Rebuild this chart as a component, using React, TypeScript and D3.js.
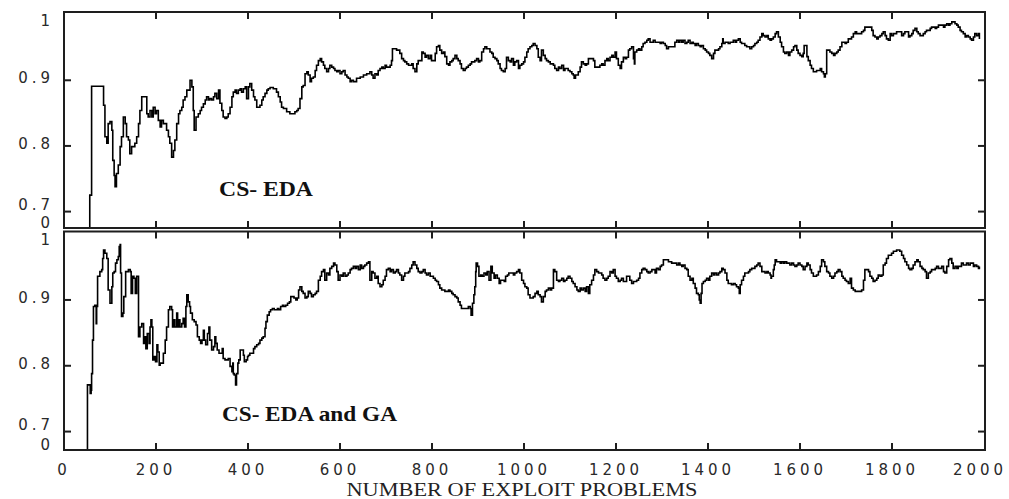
import React from 'react';
import * as d3 from 'd3';

// problems (x) and classification accuracy (y)
const csEdaPoints: [number, number][] = [
  [56,0.675],[56,0.725],[60,0.725],[60,0.891],[85,0.891],[86,0.862],[89,0.814],[93,0.804],[96,0.834],[100,0.837],
  [104,0.824],[106,0.778],[109,0.755],[111,0.738],[114,0.758],[118,0.771],[122,0.799],[125,0.814],[129,0.844],[133,0.834],
  [136,0.814],[140,0.809],[143,0.788],[147,0.799],[151,0.799],[154,0.804],[158,0.814],[162,0.834],[165,0.854],[169,0.875],
  [176,0.875],[180,0.849],[183,0.844],[187,0.854],[191,0.844],[194,0.859],[198,0.849],[201,0.854],[205,0.839],[209,0.829],
  [212,0.839],[216,0.834],[223,0.824],[227,0.814],[230,0.804],[234,0.783],[238,0.793],[241,0.809],[245,0.834],[249,0.849],
  [252,0.854],[256,0.859],[259,0.870],[263,0.875],[267,0.885],[270,0.885],[274,0.900],[278,0.890],[281,0.854],[283,0.824],
  [287,0.844],[292,0.849],[296,0.854],[299,0.859],[303,0.864],[307,0.870],[310,0.875],[314,0.870],[317,0.872],[321,0.870],
  [325,0.875],[328,0.880],[332,0.872],[336,0.885],[339,0.865],[343,0.854],[346,0.844],[350,0.842],[354,0.844],[357,0.849],
  [361,0.859],[365,0.875],[368,0.882],[372,0.885],[375,0.880],[379,0.885],[383,0.887],[386,0.882],[390,0.887],[394,0.890],
  [397,0.872],[401,0.890],[404,0.895],[408,0.885],[412,0.875],[415,0.870],[419,0.859],[426,0.862],[430,0.870],[433,0.875],
  [437,0.880],[441,0.885],[444,0.887],[448,0.889],[455,0.887],[462,0.882],[466,0.875],[470,0.867],[473,0.859],[477,0.857],
  [484,0.852],[491,0.849],[499,0.849],[502,0.852],[506,0.854],[509,0.857],[513,0.872],[517,0.890],[520,0.892],[524,0.910],
  [528,0.913],[531,0.908],[535,0.898],[538,0.903],[542,0.905],[546,0.915],[549,0.923],[553,0.930],[557,0.933],[560,0.928],
  [564,0.923],[567,0.918],[571,0.913],[575,0.918],[578,0.923],[582,0.920],[586,0.918],[589,0.915],[593,0.913],[596,0.915],
  [600,0.910],[604,0.913],[607,0.915],[611,0.908],[615,0.905],[618,0.903],[622,0.898],[625,0.900],[629,0.898],[636,0.903],
  [644,0.905],[651,0.908],[658,0.910],[665,0.913],[669,0.908],[672,0.903],[676,0.910],[680,0.908],[683,0.915],[687,0.918],
  [691,0.920],[694,0.918],[698,0.923],[701,0.920],[709,0.923],[712,0.930],[714,0.948],[720,0.948],[723,0.946],[727,0.946],
  [730,0.941],[734,0.933],[738,0.930],[741,0.928],[745,0.925],[749,0.923],[752,0.923],[756,0.925],[759,0.918],[763,0.913],
  [767,0.925],[770,0.930],[774,0.930],[778,0.943],[781,0.941],[785,0.935],[788,0.938],[792,0.933],[796,0.938],[799,0.930],
  [803,0.930],[807,0.941],[810,0.951],[814,0.953],[817,0.946],[821,0.941],[825,0.943],[828,0.936],[832,0.925],[836,0.923],
  [839,0.928],[843,0.930],[846,0.933],[850,0.938],[854,0.933],[857,0.930],[861,0.925],[864,0.918],[868,0.915],[872,0.918],
  [875,0.920],[879,0.923],[883,0.925],[886,0.928],[893,0.930],[897,0.933],[901,0.928],[904,0.930],[908,0.943],[912,0.948],
  [915,0.951],[919,0.948],[922,0.948],[926,0.943],[930,0.941],[933,0.935],[937,0.933],[941,0.930],[944,0.925],[948,0.918],
  [951,0.915],[955,0.913],[959,0.918],[962,0.935],[966,0.930],[970,0.928],[973,0.933],[977,0.923],[980,0.928],[984,0.930],
  [988,0.918],[991,0.923],[995,0.925],[999,0.928],[1002,0.935],[1006,0.943],[1009,0.948],[1013,0.951],[1017,0.953],[1020,0.956],
  [1024,0.953],[1028,0.948],[1031,0.935],[1035,0.930],[1038,0.946],[1042,0.938],[1046,0.933],[1049,0.930],[1053,0.928],[1057,0.925],
  [1060,0.925],[1064,0.923],[1067,0.918],[1071,0.915],[1075,0.920],[1078,0.918],[1082,0.923],[1086,0.915],[1089,0.918],[1093,0.918],
  [1096,0.915],[1100,0.913],[1104,0.910],[1107,0.908],[1109,0.903],[1112,0.908],[1118,0.913],[1122,0.920],[1125,0.928],[1129,0.925],
  [1133,0.923],[1136,0.925],[1140,0.933],[1147,0.933],[1151,0.930],[1154,0.920],[1158,0.920],[1165,0.923],[1169,0.925],[1172,0.923],
  [1176,0.930],[1180,0.933],[1183,0.930],[1187,0.935],[1191,0.938],[1194,0.935],[1198,0.943],[1201,0.933],[1205,0.923],[1209,0.918],
  [1212,0.928],[1216,0.935],[1220,0.933],[1223,0.935],[1227,0.946],[1230,0.948],[1234,0.951],[1238,0.933],[1240,0.925],[1241,0.943],
  [1245,0.946],[1249,0.948],[1252,0.946],[1256,0.951],[1259,0.956],[1263,0.958],[1267,0.961],[1270,0.963],[1274,0.958],[1278,0.958],
  [1281,0.961],[1285,0.958],[1292,0.958],[1296,0.956],[1299,0.958],[1303,0.956],[1307,0.953],[1310,0.948],[1314,0.951],[1321,0.951],
  [1328,0.958],[1332,0.961],[1336,0.958],[1339,0.961],[1343,0.958],[1346,0.961],[1350,0.956],[1354,0.958],[1357,0.961],[1361,0.956],
  [1365,0.958],[1368,0.956],[1372,0.953],[1375,0.956],[1379,0.953],[1383,0.951],[1386,0.953],[1390,0.948],[1394,0.946],[1397,0.943],
  [1401,0.941],[1404,0.938],[1408,0.933],[1412,0.941],[1415,0.946],[1419,0.946],[1423,0.948],[1426,0.951],[1430,0.956],[1432,0.963],
  [1433,0.956],[1437,0.958],[1441,0.958],[1444,0.956],[1448,0.958],[1451,0.958],[1455,0.961],[1459,0.958],[1462,0.961],[1466,0.963],
  [1470,0.958],[1473,0.956],[1477,0.956],[1480,0.953],[1484,0.951],[1488,0.951],[1491,0.948],[1495,0.951],[1499,0.953],[1502,0.956],
  [1506,0.958],[1509,0.961],[1513,0.966],[1517,0.971],[1520,0.968],[1524,0.966],[1528,0.968],[1531,0.963],[1535,0.961],[1538,0.963],
  [1542,0.966],[1546,0.971],[1549,0.974],[1553,0.966],[1557,0.958],[1560,0.951],[1564,0.943],[1567,0.941],[1571,0.943],[1575,0.938],
  [1578,0.943],[1582,0.946],[1586,0.951],[1589,0.953],[1593,0.946],[1596,0.941],[1600,0.938],[1604,0.936],[1607,0.941],[1609,0.953],
  [1612,0.953],[1615,0.936],[1618,0.930],[1622,0.923],[1625,0.918],[1629,0.913],[1633,0.913],[1636,0.915],[1640,0.915],[1644,0.918],
  [1647,0.913],[1651,0.910],[1653,0.905],[1655,0.910],[1658,0.946],[1662,0.946],[1665,0.943],[1669,0.941],[1673,0.938],[1676,0.941],
  [1680,0.943],[1683,0.946],[1687,0.951],[1691,0.958],[1694,0.958],[1698,0.956],[1701,0.958],[1705,0.963],[1709,0.963],[1712,0.966],
  [1716,0.971],[1720,0.974],[1723,0.971],[1730,0.971],[1734,0.974],[1738,0.976],[1741,0.981],[1752,0.981],[1756,0.976],[1759,0.968],
  [1763,0.966],[1767,0.963],[1770,0.966],[1774,0.968],[1778,0.971],[1781,0.974],[1785,0.968],[1788,0.963],[1792,0.961],[1796,0.971],
  [1799,0.968],[1803,0.971],[1810,0.974],[1817,0.974],[1821,0.968],[1825,0.971],[1828,0.974],[1832,0.974],[1836,0.966],[1839,0.968],
  [1843,0.971],[1846,0.976],[1850,0.979],[1854,0.974],[1857,0.971],[1861,0.968],[1865,0.968],[1868,0.971],[1872,0.974],[1875,0.976],
  [1879,0.976],[1883,0.979],[1886,0.981],[1890,0.981],[1894,0.979],[1897,0.981],[1901,0.984],[1904,0.984],[1908,0.984],[1912,0.981],
  [1915,0.984],[1919,0.986],[1923,0.984],[1926,0.986],[1930,0.989],[1933,0.989],[1937,0.986],[1941,0.984],[1944,0.981],[1948,0.976],
  [1951,0.974],[1955,0.971],[1959,0.966],[1962,0.968],[1966,0.966],[1970,0.963],[1973,0.961],[1977,0.966],[1980,0.971],[1984,0.968],
  [1988,0.971],[1990,0.963],
];

const csEdaGaPoints: [number, number][] = [
  [51,0.672],[51,0.771],[54,0.771],[57,0.758],[59,0.763],[60,0.788],[62,0.839],[64,0.890],[67,0.892],[70,0.864],
  [71,0.890],[73,0.936],[77,0.936],[78,0.943],[82,0.946],[84,0.963],[86,0.976],[89,0.971],[93,0.963],[96,0.915],
  [100,0.895],[104,0.920],[106,0.941],[109,0.943],[112,0.956],[115,0.961],[118,0.966],[120,0.981],[122,0.984],[123,0.941],
  [125,0.875],[128,0.880],[130,0.905],[134,0.943],[140,0.946],[144,0.943],[146,0.910],[149,0.936],[152,0.933],[155,0.910],
  [158,0.936],[162,0.844],[165,0.859],[169,0.864],[173,0.834],[176,0.844],[178,0.826],[181,0.849],[185,0.834],[187,0.859],
  [189,0.870],[191,0.859],[193,0.809],[196,0.814],[199,0.806],[202,0.832],[204,0.821],[207,0.801],[209,0.804],[212,0.804],
  [216,0.819],[220,0.839],[223,0.859],[227,0.885],[230,0.890],[234,0.885],[236,0.859],[239,0.870],[241,0.859],[245,0.880],
  [247,0.859],[250,0.870],[252,0.859],[256,0.864],[259,0.872],[262,0.859],[265,0.890],[267,0.908],[270,0.897],[273,0.890],
  [275,0.880],[279,0.870],[283,0.867],[287,0.862],[290,0.844],[294,0.839],[297,0.834],[300,0.839],[303,0.854],[305,0.839],
  [308,0.832],[312,0.849],[315,0.859],[317,0.839],[321,0.824],[325,0.829],[328,0.844],[330,0.834],[333,0.824],[337,0.819],
  [341,0.819],[344,0.826],[346,0.811],[350,0.809],[354,0.809],[357,0.811],[361,0.799],[365,0.791],[367,0.804],[368,0.788],
  [370,0.786],[373,0.771],[375,0.788],[378,0.804],[380,0.809],[383,0.824],[386,0.824],[390,0.816],[392,0.806],[396,0.809],
  [399,0.814],[401,0.816],[404,0.819],[408,0.819],[412,0.826],[415,0.829],[419,0.832],[423,0.834],[426,0.839],[430,0.842],
  [433,0.844],[437,0.857],[439,0.867],[442,0.877],[446,0.882],[449,0.885],[453,0.887],[457,0.885],[460,0.885],[464,0.887],
  [467,0.885],[471,0.890],[475,0.892],[478,0.890],[482,0.892],[486,0.895],[490,0.897],[493,0.905],[496,0.905],[500,0.903],
  [504,0.900],[507,0.903],[510,0.915],[513,0.920],[517,0.913],[520,0.910],[524,0.903],[528,0.905],[531,0.913],[535,0.910],
  [538,0.905],[542,0.908],[546,0.910],[549,0.913],[553,0.930],[557,0.936],[560,0.943],[564,0.946],[567,0.930],[571,0.941],
  [575,0.938],[578,0.948],[582,0.951],[586,0.956],[589,0.953],[593,0.943],[596,0.930],[600,0.938],[604,0.936],[607,0.941],
  [611,0.936],[615,0.938],[618,0.941],[622,0.946],[625,0.948],[629,0.951],[633,0.948],[636,0.951],[640,0.946],[644,0.953],
  [647,0.948],[651,0.951],[654,0.953],[658,0.956],[662,0.958],[665,0.930],[669,0.943],[672,0.941],[676,0.933],[680,0.936],
  [683,0.925],[687,0.920],[691,0.923],[694,0.930],[698,0.936],[701,0.946],[705,0.948],[709,0.943],[712,0.946],[716,0.941],
  [720,0.943],[723,0.946],[727,0.941],[730,0.938],[734,0.930],[738,0.936],[741,0.941],[745,0.941],[749,0.943],[752,0.948],
  [756,0.953],[759,0.958],[763,0.953],[767,0.948],[770,0.943],[774,0.941],[778,0.943],[781,0.946],[785,0.941],[788,0.938],
  [792,0.941],[796,0.936],[799,0.936],[803,0.933],[807,0.930],[810,0.928],[814,0.923],[817,0.918],[821,0.915],[825,0.915],
  [828,0.913],[832,0.913],[836,0.915],[839,0.913],[843,0.910],[846,0.908],[850,0.905],[854,0.903],[857,0.897],[861,0.892],
  [864,0.887],[872,0.887],[875,0.887],[879,0.890],[883,0.887],[885,0.877],[888,0.895],[891,0.908],[893,0.920],[895,0.943],
  [896,0.956],[899,0.951],[902,0.936],[906,0.938],[909,0.936],[913,0.941],[917,0.938],[920,0.943],[924,0.930],[928,0.951],
  [931,0.941],[935,0.933],[938,0.938],[942,0.933],[946,0.925],[949,0.930],[953,0.930],[957,0.928],[960,0.936],[964,0.938],
  [967,0.941],[973,0.941],[977,0.938],[980,0.941],[984,0.943],[988,0.946],[991,0.941],[995,0.930],[999,0.925],[1002,0.920],
  [1006,0.918],[1009,0.908],[1013,0.903],[1017,0.903],[1020,0.905],[1024,0.910],[1028,0.913],[1031,0.908],[1035,0.905],[1038,0.897],
  [1042,0.905],[1046,0.913],[1049,0.915],[1053,0.918],[1057,0.915],[1060,0.918],[1064,0.946],[1067,0.943],[1071,0.930],[1075,0.928],
  [1078,0.930],[1082,0.933],[1086,0.928],[1089,0.930],[1093,0.933],[1096,0.936],[1100,0.933],[1104,0.928],[1107,0.925],[1111,0.920],
  [1115,0.915],[1118,0.913],[1122,0.918],[1125,0.915],[1129,0.918],[1133,0.913],[1136,0.920],[1140,0.910],[1143,0.923],[1147,0.930],
  [1151,0.938],[1154,0.946],[1158,0.943],[1162,0.941],[1165,0.941],[1169,0.938],[1172,0.933],[1176,0.930],[1180,0.933],[1183,0.936],
  [1187,0.943],[1191,0.941],[1194,0.946],[1198,0.936],[1201,0.933],[1205,0.928],[1209,0.930],[1212,0.933],[1216,0.928],[1220,0.928],
  [1223,0.936],[1227,0.936],[1230,0.930],[1234,0.925],[1238,0.928],[1241,0.928],[1245,0.930],[1249,0.933],[1252,0.941],[1256,0.946],
  [1259,0.948],[1263,0.946],[1267,0.943],[1270,0.941],[1274,0.943],[1278,0.946],[1281,0.946],[1285,0.941],[1288,0.948],[1292,0.946],
  [1296,0.951],[1299,0.953],[1303,0.961],[1307,0.961],[1314,0.958],[1321,0.956],[1328,0.956],[1332,0.953],[1336,0.956],[1339,0.953],
  [1343,0.951],[1346,0.953],[1350,0.948],[1354,0.946],[1357,0.936],[1361,0.930],[1365,0.933],[1368,0.925],[1372,0.918],[1375,0.910],
  [1379,0.908],[1381,0.900],[1383,0.895],[1385,0.910],[1387,0.925],[1390,0.928],[1394,0.930],[1397,0.933],[1401,0.930],[1404,0.936],
  [1408,0.941],[1412,0.938],[1415,0.941],[1419,0.938],[1423,0.941],[1426,0.943],[1430,0.948],[1433,0.946],[1437,0.941],[1441,0.930],
  [1444,0.925],[1448,0.925],[1451,0.923],[1455,0.925],[1459,0.923],[1462,0.920],[1466,0.918],[1468,0.910],[1470,0.923],[1473,0.930],
  [1477,0.936],[1480,0.941],[1484,0.941],[1488,0.943],[1491,0.946],[1495,0.948],[1499,0.948],[1502,0.951],[1506,0.953],[1509,0.956],
  [1513,0.951],[1517,0.943],[1520,0.943],[1524,0.941],[1528,0.943],[1531,0.941],[1535,0.938],[1537,0.933],[1538,0.936],[1542,0.946],
  [1544,0.953],[1546,0.961],[1549,0.958],[1553,0.958],[1557,0.956],[1560,0.958],[1564,0.956],[1567,0.958],[1571,0.956],[1575,0.956],
  [1578,0.953],[1582,0.956],[1586,0.953],[1589,0.951],[1593,0.953],[1596,0.956],[1600,0.953],[1604,0.951],[1607,0.946],[1611,0.951],
  [1615,0.956],[1618,0.953],[1622,0.946],[1625,0.941],[1629,0.936],[1633,0.936],[1636,0.938],[1640,0.943],[1644,0.951],[1647,0.961],
  [1651,0.958],[1654,0.951],[1658,0.943],[1662,0.941],[1665,0.936],[1669,0.933],[1673,0.936],[1676,0.941],[1680,0.943],[1683,0.946],
  [1687,0.943],[1691,0.936],[1694,0.933],[1698,0.930],[1701,0.928],[1705,0.925],[1709,0.933],[1712,0.918],[1716,0.915],[1720,0.913],
  [1730,0.913],[1734,0.915],[1738,0.930],[1741,0.946],[1745,0.946],[1749,0.943],[1752,0.936],[1756,0.933],[1759,0.928],[1763,0.930],
  [1767,0.933],[1770,0.938],[1774,0.936],[1778,0.938],[1781,0.953],[1785,0.956],[1788,0.963],[1792,0.968],[1796,0.968],[1799,0.971],
  [1803,0.974],[1807,0.974],[1810,0.976],[1814,0.976],[1817,0.974],[1821,0.968],[1825,0.963],[1828,0.958],[1832,0.953],[1836,0.948],
  [1839,0.946],[1843,0.948],[1846,0.953],[1850,0.958],[1854,0.961],[1857,0.958],[1861,0.951],[1865,0.948],[1868,0.946],[1872,0.943],
  [1875,0.933],[1879,0.941],[1883,0.943],[1886,0.946],[1890,0.946],[1894,0.948],[1897,0.951],[1901,0.948],[1904,0.948],[1908,0.951],
  [1912,0.943],[1915,0.941],[1919,0.951],[1923,0.961],[1926,0.963],[1930,0.956],[1933,0.948],[1937,0.951],[1941,0.948],[1944,0.951],
  [1948,0.951],[1951,0.956],[1955,0.953],[1959,0.953],[1962,0.956],[1966,0.953],[1970,0.956],[1973,0.956],[1977,0.951],[1980,0.953],
  [1984,0.951],[1988,0.948],[1990,0.951],
];

const xTickValues = [0, 200, 400, 600, 800, 1000, 1200, 1400, 1600, 1800, 2000];
const yTickValues = [0.7, 0.8, 0.9];
const yTickLabels = ['0.7', '0.8', '0.9'];
const panelTitles = ['CS-EDA', 'CS-EDA and GA'];
const xAxisTitle = 'NUMBER OF EXPLOIT PROBLEMS';

const W = 1009;
const H = 499;
const LEFT = 64;
const RIGHT = 984;
const INK = '#1e1e1e';
const LABEL_FONT = '"DejaVu Sans", Verdana, sans-serif';
const SERIF = '"Liberation Serif", "Times New Roman", serif';

const x = d3.scaleLinear().domain([0, 2000]).range([LEFT, RIGHT]);

const panels = [
  { top: 12, bottom: 228, domain: [0.675, 1.004], points: csEdaPoints, title: panelTitles[0], tx: 219, ty: 196, tlen: 94 },
  { top: 231.5, bottom: 450, domain: [0.672, 1.004], points: csEdaGaPoints, title: panelTitles[1], tx: 222, ty: 421, tlen: 175 },
];

const labelProps = {
  fontFamily: LABEL_FONT,
  fontSize: 15,
  letterSpacing: 4,
  fill: '#2a2a2a',
};

function Panel({ p }: { p: typeof panels[number] }) {
  const y = d3.scaleLinear().domain(p.domain).range([p.bottom, p.top]);
  const line = d3
    .line<[number, number]>()
    .x((d) => x(d[0]))
    .y((d) => y(Math.max(d[1], p.domain[0])))
    .curve(d3.curveStepAfter);
  const innerTicks = xTickValues.slice(1, -1);
  const [first, rest] = [p.title.slice(0, 3), p.title.slice(3)];
  return (
    <g>
      <path d={line(p.points) || ''} fill="none" stroke="#000" strokeWidth={1.6} strokeLinejoin="miter" />
      <rect x={LEFT} y={p.top} width={RIGHT - LEFT + 1} height={p.bottom - p.top} fill="none" stroke={INK} strokeWidth={2} />
      {innerTicks.map((t) => (
        <g key={'xt' + t}>
          <line x1={x(t)} x2={x(t)} y1={p.top} y2={p.top + 7} stroke={INK} strokeWidth={2} />
          <line x1={x(t)} x2={x(t)} y1={p.bottom} y2={p.bottom - 7} stroke={INK} strokeWidth={2} />
        </g>
      ))}
      {yTickValues.map((t) => (
        <g key={'yt' + t}>
          <line x1={LEFT} x2={LEFT + 7} y1={y(t)} y2={y(t)} stroke={INK} strokeWidth={2} />
          <line x1={RIGHT + 1} x2={RIGHT - 6} y1={y(t)} y2={y(t)} stroke={INK} strokeWidth={2} />
        </g>
      ))}
      {yTickValues.map((t, i) => (
        <text
          key={'yl' + t}
          x={54}
          y={y(t) - (t === 0.7 ? 6.7 : 2)}
          textAnchor="end"
          dominantBaseline="central"
          {...labelProps}
        >
          {yTickLabels[i]}
        </text>
      ))}
      <text x={54} y={p.top + 8.5} textAnchor="end" dominantBaseline="central" {...labelProps}>
        1
      </text>
      <text x={54} y={p.bottom - 5.5} textAnchor="end" dominantBaseline="central" {...labelProps}>
        0
      </text>
      <text x={p.tx} y={p.ty} fontFamily={SERIF} fontWeight="bold" fontSize={21} fill="#111" textLength={p.tlen} lengthAdjust="spacingAndGlyphs">
        {first}
        <tspan dx={5}>{rest}</tspan>
      </text>
    </g>
  );
}

export default function App() {
  return (
    <div style={{ position: 'absolute', left: 0, top: 0 }}>
      <svg width={W} height={H} viewBox={`0 0 ${W} ${H}`} style={{ display: 'block', background: '#fff' }}>
        {panels.map((p, i) => (
          <Panel key={i} p={p} />
        ))}
        {xTickValues.map((t) => (
          <text
            key={'xl' + t}
            x={x(t) - (t === 2000 ? 4 : 0)}
            y={470}
            textAnchor="middle"
            dominantBaseline="central"
            {...labelProps}
          >
            {String(t)}
          </text>
        ))}
        <text x={522} y={496} textAnchor="middle" fontFamily={SERIF} fontSize={19} fill="#222" textLength={351} lengthAdjust="spacingAndGlyphs">
          {xAxisTitle}
        </text>
      </svg>
    </div>
  );
}
